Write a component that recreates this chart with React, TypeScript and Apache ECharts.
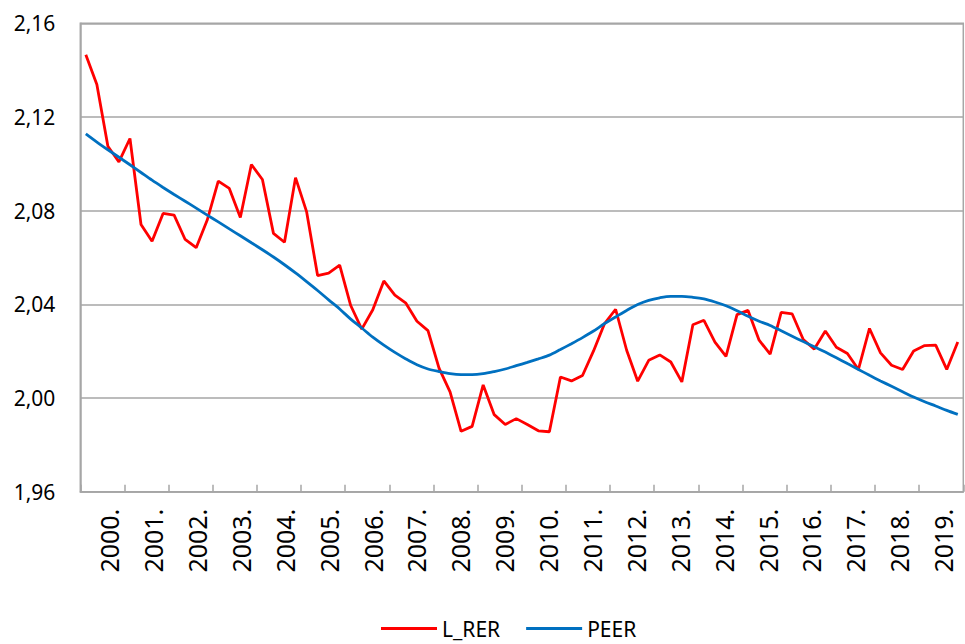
import React, { useEffect, useRef } from "react";
import * as echarts from "echarts";

// Year categories (one label per year, quarterly data underneath)
const years: string[] = [
  "2000.", "2001.", "2002.", "2003.", "2004.", "2005.", "2006.", "2007.", "2008.", "2009.",
  "2010.", "2011.", "2012.", "2013.", "2014.", "2015.", "2016.", "2017.", "2018.", "2019.",
];
const quarterNames: string[] = ["Q1", "Q2", "Q3", "Q4"];
const quarters: string[] = years.flatMap((y) => quarterNames.map((q) => y + q));

// Series values (quarterly, 2000Q1 - 2019Q4)
const lRer: number[] = [
  2.1466, 2.1339, 2.1075, 2.1008, 2.1108, 2.0741, 2.0669, 2.0788, 2.0781, 2.0677,
  2.0642, 2.0760, 2.0926, 2.0895, 2.0771, 2.0997, 2.0933, 2.0703, 2.0665, 2.0941,
  2.0796, 2.0523, 2.0533, 2.0567, 2.0395, 2.0294, 2.0377, 2.0500, 2.0439, 2.0405,
  2.0328, 2.0288, 2.0128, 2.0026, 1.9858, 1.9879, 2.0056, 1.9929, 1.9887, 1.9912,
  1.9887, 1.9860, 1.9856, 2.0090, 2.0073, 2.0096, 2.0201, 2.0318, 2.0379, 2.0204,
  2.0072, 2.0161, 2.0184, 2.0154, 2.0069, 2.0313, 2.0332, 2.0239, 2.0178, 2.0356,
  2.0374, 2.0247, 2.0187, 2.0366, 2.0359, 2.0250, 2.0209, 2.0286, 2.0217, 2.0190,
  2.0122, 2.0297, 2.0193, 2.0140, 2.0122, 2.0201, 2.0224, 2.0226, 2.0122, 2.0239,
];
const peer: number[] = [
  2.1128, 2.1093, 2.1060, 2.1028, 2.0996, 2.0963, 2.0930, 2.0899, 2.0869, 2.0840,
  2.0811, 2.0781, 2.0752, 2.0722, 2.0693, 2.0663, 2.0633, 2.0602, 2.0569, 2.0534,
  2.0497, 2.0459, 2.0419, 2.0380, 2.0337, 2.0299, 2.0260, 2.0226, 2.0195, 2.0167,
  2.0142, 2.0124, 2.0113, 2.0104, 2.0100, 2.0100, 2.0104, 2.0113, 2.0124, 2.0138,
  2.0152, 2.0167, 2.0183, 2.0207, 2.0232, 2.0258, 2.0286, 2.0318, 2.0346, 2.0374,
  2.0399, 2.0417, 2.0428, 2.0434, 2.0434, 2.0430, 2.0423, 2.0410, 2.0394, 2.0373,
  2.0349, 2.0328, 2.0310, 2.0287, 2.0264, 2.0241, 2.0219, 2.0196, 2.0172, 2.0147,
  2.0122, 2.0097, 2.0073, 2.0050, 2.0027, 2.0004, 1.9984, 1.9966, 1.9947, 1.9930,
];

// Y axis scale
const yMin = 1.96;
const yMax = 2.16;
const yStep = 0.04;

const GRID_COLOR = "#a6a6a6";
const FONT = "'Noto Sans', sans-serif";
const LABEL_SHIFT = 7;

export default function App() {
  const ref = useRef<HTMLDivElement>(null);

  useEffect(() => {
    document.body.style.margin = "0";
    const chart = echarts.init(ref.current!, null, { renderer: "svg" });
    chart.setOption({
      animation: false,
      backgroundColor: "#ffffff",
      grid: [
        {
          left: 80.3,
          right: 1.7,
          top: 23.3,
          bottom: 152.3,
          show: true,
          borderColor: GRID_COLOR,
          borderWidth: 1.5,
        },
        {
          left: 80.3 + LABEL_SHIFT,
          right: 1.7 - LABEL_SHIFT,
          top: 23.3,
          bottom: 152.3,
          show: false,
        },
      ],
      legend: {
        left: 376,
        top: 613,
        icon: "rect",
        itemWidth: 56,
        itemHeight: 3,
        itemGap: 26,
        textStyle: { fontSize: 21, fontFamily: FONT, color: "#000" },
        data: ["L_RER", "PEER"],
      },
      xAxis: [
        {
          type: "category",
          gridIndex: 0,
          data: quarters,
          boundaryGap: true,
          show: false,
        },
        {
          type: "category",
          gridIndex: 0,
          data: years,
          boundaryGap: true,
          position: "bottom",
          axisLine: { show: true, lineStyle: { color: GRID_COLOR, width: 1.5 } },
          axisTick: {
            show: true,
            inside: true,
            length: 7,
            interval: 0,
            lineStyle: { color: GRID_COLOR, width: 1.5 },
          },
          axisLabel: { show: false },
          splitLine: { show: false },
        },
        {
          type: "category",
          gridIndex: 1,
          data: years,
          boundaryGap: true,
          position: "bottom",
          axisLine: { show: false },
          axisTick: { show: false },
          axisLabel: {
            interval: 0,
            rotate: 90,
            margin: 17,
            fontSize: 25,
            fontFamily: FONT,
            color: "#000",
            padding: [12, 0, 0, 0],
          },
          splitLine: { show: false },
        },
      ],
      yAxis: [
        {
          type: "value",
          gridIndex: 0,
          min: yMin,
          max: yMax,
          interval: yStep,
          axisLine: { show: true, lineStyle: { color: GRID_COLOR, width: 1.5 } },
          axisTick: { show: false },
          axisLabel: {
            margin: 25,
            fontSize: 21,
            fontFamily: FONT,
            color: "#000",
            formatter: (v: number) => v.toFixed(2).replace(".", ","),
          },
          splitLine: { show: true, lineStyle: { color: GRID_COLOR, width: 1.5 } },
        },
        {
          type: "value",
          gridIndex: 1,
          min: yMin,
          max: yMax,
          interval: yStep,
          show: false,
          splitLine: { show: false },
        },
      ],
      series: [
        {
          name: "L_RER",
          type: "line",
          xAxisIndex: 0,
          yAxisIndex: 0,
          data: lRer,
          symbol: "none",
          lineStyle: { color: "#ff0000", width: 2.8 },
          itemStyle: { color: "#ff0000" },
        },
        {
          name: "PEER",
          type: "line",
          xAxisIndex: 0,
          yAxisIndex: 0,
          data: peer,
          symbol: "none",
          smooth: 0.3,
          lineStyle: { color: "#0070c0", width: 2.8 },
          itemStyle: { color: "#0070c0" },
        },
      ],
    });
    return () => chart.dispose();
  }, []);

  return (
    <div
      ref={ref}
      style={{ width: 965, height: 644, position: "absolute", left: 0, top: 0 }}
    />
  );
}
